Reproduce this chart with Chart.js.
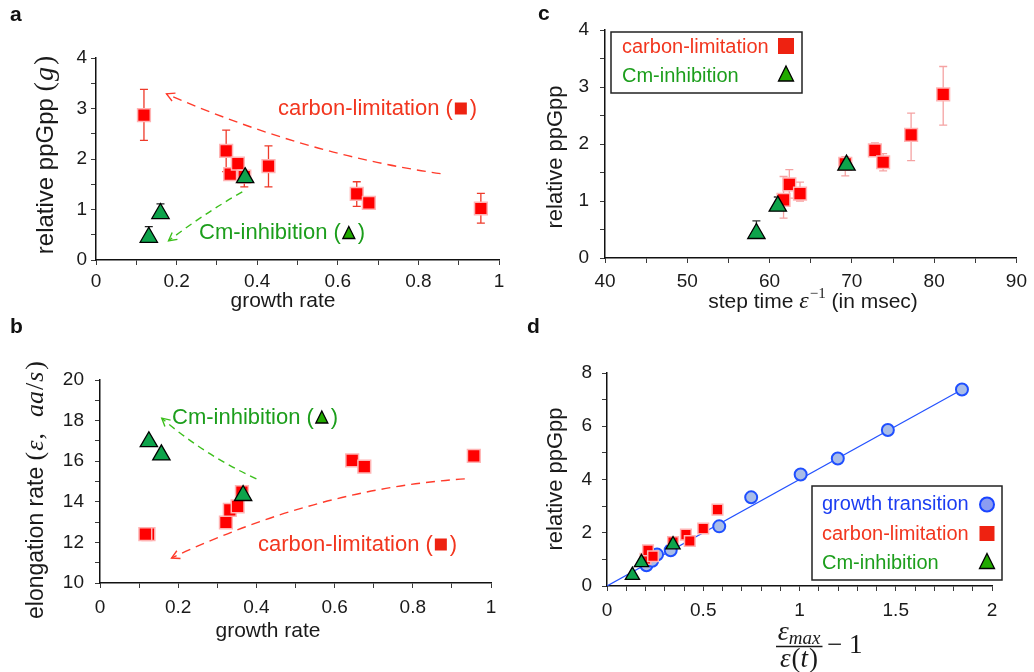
<!DOCTYPE html>
<html>
<head>
<meta charset="utf-8">
<title>ppGpp and elongation rate</title>
<script src="https://cdn.jsdelivr.net/npm/chart.js@4.4.0/dist/chart.umd.min.js"></script>
<style>
  html, body { margin: 0; padding: 0; background: #ffffff; }
  #wrap { position: relative; width: 1034px; height: 672px; overflow: hidden; }
  #wrap canvas { position: absolute; left: 0; top: 0; }
</style>
</head>
<body>
<div id="wrap">
  <canvas id="pa" width="1034" height="672"></canvas>
  <canvas id="pb" width="1034" height="672"></canvas>
  <canvas id="pc" width="1034" height="672"></canvas>
  <canvas id="pd" width="1034" height="672"></canvas>
</div>
<script>
// ---------- panel a: relative ppGpp vs growth rate ----------
const aCarbonRate  = [0.119, 0.323, 0.333, 0.352, 0.368, 0.428, 0.647, 0.677, 0.955];
const aCarbonPpGpp = [2.87, 2.16, 1.70, 1.91, 1.65, 1.86, 1.31, 1.13, 1.02];
const aCarbonLow   = [2.37, 1.75, null, null, 1.45, 1.45, 1.06, null, 0.73];
const aCarbonHigh  = [3.38, 2.57, null, null, null, 2.26, 1.55, null, 1.32];
const aCmRate      = [0.131, 0.160, 0.370];
const aCmPpGpp     = [0.45, 0.92, 1.63];
const aCmHigh      = [0.66, 1.11, null];

// ---------- panel b: elongation rate vs growth rate ----------
const bCarbonRate  = [0.124, 0.116, 0.322, 0.332, 0.352, 0.363, 0.645, 0.676, 0.956];
const bCarbonElong = [12.41, 12.41, 12.98, 13.60, 13.77, 14.48, 16.04, 15.73, 16.26];
const bCmRate      = [0.125, 0.157, 0.366];
const bCmElong     = [16.96, 16.31, 14.31];

// ---------- panel c: relative ppGpp vs step time (msec) ----------
const cCarbonStep  = [61.7, 62.4, 63.7, 69.2, 72.8, 73.8, 77.2, 81.1];
const cCarbonPpGpp = [1.02, 1.29, 1.13, 1.65, 1.89, 1.68, 2.16, 2.87];
const cCarbonLow   = [0.70, 1.05, 1.00, 1.44, 1.80, 1.53, 1.71, 2.33];
const cCarbonHigh  = [1.43, 1.55, 1.33, 1.78, 2.02, 1.83, 2.54, 3.36];
const cCmStep      = [58.4, 61.0, 69.35];
const cCmPpGpp     = [0.43, 0.91, 1.63];
const cCmHigh      = [0.65, 1.07, null];

// ---------- panel d: relative ppGpp vs eps_max/eps(t) - 1 ----------
const dGrowthX = [0.205, 0.235, 0.26, 0.331, 0.583, 0.749, 1.006, 1.199, 1.459, 1.844];
const dGrowthY = [0.78, 0.95, 1.18, 1.34, 2.24, 3.33, 4.19, 4.79, 5.86, 7.38];
const dCarbonX = [0.200, 0.213, 0.239, 0.343, 0.41, 0.43, 0.50, 0.574];
const dCarbonY = [1.02, 1.34, 1.12, 1.65, 1.93, 1.69, 2.16, 2.87];
const dCmX     = [0.132, 0.179, 0.343];
const dCmY     = [0.40, 0.88, 1.55];
const dFitX    = [0, 1.84];
const dFitY    = [0, 7.36];

// ---------- tick layouts: [min, max, minor step, labelled step] ----------
const aXTicks = [0, 1, 0.1, 0.2],  aYTicks = [0, 4, 0.5, 1];
const bXTicks = [0, 1, 0.1, 0.2],  bYTicks = [10, 20, 1, 2];
const cXTicks = [40, 90, 5, 10],   cYTicks = [0, 4, 0.5, 1];
const dXTicks = [0, 2, 0.1, 0.5],  dYTicks = [0, 8, 1, 2];

const SANS  = '"Liberation Sans", Arial, Helvetica, sans-serif';
const SERIF = '"Liberation Serif", "DejaVu Serif", serif';
const RED_TXT = '#f2361f', GREEN_TXT = '#1c9e1c', BLUE_TXT = '#1b3df2';

const pts = (xs, ys) => xs.map((x, i) => ({ x: x, y: ys[i] }));

function labelEvery(major) {
  return function (v) {
    const r = v / major;
    return Math.abs(r - Math.round(r)) < 1e-6 ? String(+Number(v).toFixed(3)) : '';
  };
}

function axis(t, pad, fit) {
  return {
    type: 'linear', min: t[0], max: t[1],
    ticks: { stepSize: t[2], autoSkip: false, maxRotation: 0, minRotation: 0, padding: pad,
             color: '#1a1a1a', font: { family: SANS, size: 19 }, callback: labelEvery(t[3]) },
    grid: { drawOnChartArea: false, drawTicks: true, tickLength: 5, color: '#3a3a3a', lineWidth: 1 },
    border: { display: true, color: '#111111', width: 1.5 },
    title: { display: false },
    afterFit: fit
  };
}

// marker styles
const squareStyle = (r) => ({ pointStyle: 'rect', pointRadius: r, pointHoverRadius: r,
  backgroundColor: '#ff0000', borderColor: '#ffb4b4', borderWidth: 1.5 });
const triStyle = (r) => ({ pointStyle: 'triangle', pointRadius: r, pointHoverRadius: r,
  backgroundColor: '#0ea34b', borderColor: '#000000', borderWidth: 1.3 });

// ---------- drawing helpers ----------
function drawMarker(ctx, kind, x, y, s, fill) {
  ctx.save();
  ctx.beginPath();
  if (kind === 'square') {
    ctx.fillStyle = fill || '#ee2211';
    ctx.fillRect(x - s / 2, y - s / 2, s, s);
  } else if (kind === 'triangle') {
    ctx.moveTo(x, y - s / 2);
    ctx.lineTo(x + s / 2, y + s / 2);
    ctx.lineTo(x - s / 2, y + s / 2);
    ctx.closePath();
    ctx.fillStyle = fill || '#22aa00';
    ctx.fill();
    ctx.strokeStyle = '#000';
    ctx.lineWidth = 1.3;
    ctx.stroke();
  } else {
    ctx.arc(x, y, s / 2, 0, Math.PI * 2);
    ctx.fillStyle = fill || '#8b9cf2';
    ctx.fill();
    ctx.strokeStyle = '#1a44ff';
    ctx.lineWidth = 2;
    ctx.stroke();
  }
  ctx.restore();
}

function richWidth(ctx, segs) {
  let w = 0;
  segs.forEach(s => { ctx.font = s.font; w += ctx.measureText(s.t).width + (s.gap || 0); });
  return w;
}

function drawRich(ctx, segs, cx, base, rotate) {
  ctx.save();
  ctx.translate(cx, base);
  if (rotate) ctx.rotate(-Math.PI / 2);
  const w = richWidth(ctx, segs);
  let x = -w / 2;
  ctx.textBaseline = 'alphabetic';
  ctx.textAlign = 'left';
  segs.forEach(s => {
    ctx.font = s.font;
    ctx.fillStyle = s.color || '#1a1a1a';
    ctx.fillText(s.t, x, s.dy || 0);
    x += ctx.measureText(s.t).width + (s.gap || 0);
  });
  ctx.restore();
}

function drawErrorBars(chart) {
  const ctx = chart.ctx, ys = chart.scales.y;
  chart.data.datasets.forEach((ds, i) => {
    if (!ds.errLow && !ds.errHigh) return;
    const meta = chart.getDatasetMeta(i);
    ctx.save();
    ctx.strokeStyle = ds.errColor;
    ctx.lineWidth = 1.3;
    meta.data.forEach((pt, j) => {
      [ds.errLow ? ds.errLow[j] : null, ds.errHigh ? ds.errHigh[j] : null].forEach(v => {
        if (v === null || v === undefined) return;
        const py = ys.getPixelForValue(v);
        ctx.beginPath();
        ctx.moveTo(pt.x, pt.y);
        ctx.lineTo(pt.x, py);
        ctx.moveTo(pt.x - 4, py);
        ctx.lineTo(pt.x + 4, py);
        ctx.stroke();
      });
    });
    ctx.restore();
  });
}

function drawTrendArrow(chart, a) {
  const ctx = chart.ctx, xs = chart.scales.x, ys = chart.scales.y;
  const p0 = [xs.getPixelForValue(a.from[0]), ys.getPixelForValue(a.from[1])];
  const c  = [xs.getPixelForValue(a.ctrl[0]), ys.getPixelForValue(a.ctrl[1])];
  const p2 = [xs.getPixelForValue(a.to[0]),   ys.getPixelForValue(a.to[1])];
  ctx.save();
  ctx.strokeStyle = a.color;
  ctx.lineWidth = 1.4;
  ctx.setLineDash(a.dash);
  ctx.beginPath();
  ctx.moveTo(p0[0], p0[1]);
  ctx.quadraticCurveTo(c[0], c[1], p2[0], p2[1]);
  ctx.stroke();
  ctx.setLineDash([]);
  const ang = Math.atan2(p2[1] - c[1], p2[0] - c[0]);
  const L = 9, sp = 0.5;
  ctx.beginPath();
  ctx.moveTo(p2[0] - L * Math.cos(ang - sp), p2[1] - L * Math.sin(ang - sp));
  ctx.lineTo(p2[0], p2[1]);
  ctx.lineTo(p2[0] - L * Math.cos(ang + sp), p2[1] - L * Math.sin(ang + sp));
  ctx.stroke();
  ctx.restore();
}

function drawNote(ctx, n) {
  ctx.save();
  ctx.font = n.size + 'px ' + SANS;
  ctx.fillStyle = n.color;
  ctx.textBaseline = 'alphabetic';
  ctx.textAlign = 'left';
  ctx.fillText(n.text, n.x, n.y);
  let x = n.x + ctx.measureText(n.text).width + 2;
  drawMarker(ctx, n.marker, x + n.msize / 2, n.my, n.msize);
  x += n.msize + 3;
  ctx.fillStyle = n.color;
  ctx.fillText(')', x, n.y);
  ctx.restore();
}

function drawLegend(ctx, lg) {
  ctx.save();
  ctx.strokeStyle = '#222';
  ctx.lineWidth = 1.5;
  ctx.strokeRect(lg.box[0], lg.box[1], lg.box[2] - lg.box[0], lg.box[3] - lg.box[1]);
  ctx.font = lg.size + 'px ' + SANS;
  ctx.textBaseline = 'alphabetic';
  lg.rows.forEach(r => {
    ctx.fillStyle = r.color;
    ctx.fillText(r.text, lg.textX, r.y);
    drawMarker(ctx, r.marker, lg.markerX, r.my, r.ms);
  });
  ctx.restore();
}

// ---------- per-panel decorations (titles, notes, arrows, legends) ----------
const SANS24 = '24px ' + SANS, SANS23 = '23px ' + SANS, SANS22 = '22px ' + SANS;
const SER26 = '26px ' + SERIF, SERI26 = 'italic 26px ' + SERIF;
const DECOR = {
  pa: {
    letter: { t: 'a', x: 10, y: 21 },
    arrows: [
      { from: [0.855, 1.71], ctrl: [0.515, 2.10], to: [0.175, 3.29], color: '#ff3b2b', dash: [9, 6] },
      { from: [0.363, 1.35], ctrl: [0.265, 0.90], to: [0.180, 0.38], color: '#3cbf1c', dash: [7, 5] }
    ],
    notes: [
      { x: 278, y: 115, text: 'carbon-limitation (', color: RED_TXT, size: 22, marker: 'square', msize: 12, my: 108.5 },
      { x: 199, y: 239, text: 'Cm-inhibition (', color: GREEN_TXT, size: 22, marker: 'triangle', msize: 12, my: 232.5 }
    ],
    ytitle: { cx: 53, base: 155, segs: [
      { t: 'relative ppGpp ', font: SANS24 },
      { t: '(', font: '28px ' + SERIF, gap: 1 }, { t: 'g', font: 'italic 28px ' + SERIF, gap: 2 },
      { t: ')', font: '28px ' + SERIF } ] },
    xtitle: { cx: 283, base: 307, segs: [{ t: 'growth rate', font: '21px ' + SANS }] }
  },
  pb: {
    letter: { t: 'b', x: 10, y: 333 },
    arrows: [
      { from: [0.400, 15.13], ctrl: [0.266, 16.32], to: [0.158, 18.12], color: '#3cbf1c', dash: [7, 5] },
      { from: [0.933, 15.13], ctrl: [0.558, 14.65], to: [0.183, 11.23], color: '#ff3b2b', dash: [9, 6] }
    ],
    notes: [
      { x: 172, y: 424, text: 'Cm-inhibition (', color: GREEN_TXT, size: 22, marker: 'triangle', msize: 12, my: 417 },
      { x: 258, y: 551, text: 'carbon-limitation (', color: RED_TXT, size: 22, marker: 'square', msize: 12, my: 544.5 }
    ],
    ytitle: { cx: 43, base: 490, segs: [
      { t: 'elongation rate ', font: SANS23 },
      { t: '(', font: SER26, gap: 1 }, { t: 'ε', font: SERI26, gap: 1 }, { t: ',', font: SER26, gap: 16 },
      { t: 'aa', font: SERI26, gap: 1 }, { t: '/', font: SER26, gap: 1 }, { t: 's', font: SERI26, gap: 2 },
      { t: ')', font: SER26 } ] },
    xtitle: { cx: 268, base: 637, segs: [{ t: 'growth rate', font: '21px ' + SANS }] }
  },
  pc: {
    letter: { t: 'c', x: 538, y: 20 },
    legend: { box: [611, 32, 802, 93], size: 20, textX: 622, markerX: 786, rows: [
      { text: 'carbon-limitation', color: RED_TXT, y: 53, marker: 'square', my: 46, ms: 16 },
      { text: 'Cm-inhibition', color: GREEN_TXT, y: 82, marker: 'triangle', my: 73.5, ms: 15 } ] },
    ytitle: { cx: 562, base: 157, segs: [{ t: 'relative ppGpp', font: SANS22 }] },
    xtitle: { cx: 813, base: 308, segs: [
      { t: 'step time ', font: '21px ' + SANS },
      { t: 'ε', font: 'italic 24px ' + SERIF, gap: 1 },
      { t: '−1', font: '15px ' + SERIF, dy: -10, gap: 0 },
      { t: ' (in msec)', font: '21px ' + SANS } ] }
  },
  pd: {
    letter: { t: 'd', x: 527, y: 333 },
    legend: { box: [812, 486, 1002, 580], size: 20, textX: 822, markerX: 987, rows: [
      { text: 'growth transition', color: BLUE_TXT, y: 510, marker: 'circle', my: 504.5, ms: 14 },
      { text: 'carbon-limitation', color: RED_TXT, y: 540, marker: 'square', my: 533.5, ms: 15 },
      { text: 'Cm-inhibition', color: GREEN_TXT, y: 569, marker: 'triangle', my: 561, ms: 15 } ] },
    ytitle: { cx: 562, base: 479, segs: [{ t: 'relative ppGpp', font: SANS22 }] },
    fraction: true
  }
};

function drawFractionTitle(ctx) {
  ctx.save();
  ctx.fillStyle = '#1a1a1a';
  ctx.textBaseline = 'alphabetic';
  // numerator: eps_max
  drawRich(ctx, [
    { t: 'ε', font: 'italic 28px ' + SERIF, gap: 0 },
    { t: 'max', font: 'italic 19px ' + SERIF, dy: 4 } ], 799, 640, false);
  // fraction bar
  ctx.strokeStyle = '#1a1a1a';
  ctx.lineWidth = 1.6;
  ctx.beginPath();
  ctx.moveTo(776, 646.5);
  ctx.lineTo(822.5, 646.5);
  ctx.stroke();
  // denominator: eps(t)
  drawRich(ctx, [
    { t: 'ε', font: 'italic 27px ' + SERIF, gap: 1 },
    { t: '(', font: '27px ' + SERIF, gap: 0 },
    { t: 't', font: 'italic 27px ' + SERIF, gap: 1 },
    { t: ')', font: '27px ' + SERIF } ], 799, 667, false);
  // "− 1"
  ctx.font = '27px ' + SERIF;
  ctx.textAlign = 'left';
  ctx.fillText('− 1', 827, 653);
  ctx.restore();
}

const decorPlugin = {
  id: 'panelDecor',
  beforeDatasetsDraw(chart) {
    const d = DECOR[chart.canvas.id];
    drawErrorBars(chart);
    (d.arrows || []).forEach(a => drawTrendArrow(chart, a));
  },
  afterDraw(chart) {
    const d = DECOR[chart.canvas.id], ctx = chart.ctx;
    (d.notes || []).forEach(n => drawNote(ctx, n));
    if (d.legend) drawLegend(ctx, d.legend);
    if (d.ytitle) drawRich(ctx, d.ytitle.segs, d.ytitle.cx, d.ytitle.base, true);
    if (d.xtitle) drawRich(ctx, d.xtitle.segs, d.xtitle.cx, d.xtitle.base, false);
    if (d.fraction) drawFractionTitle(ctx);
    ctx.save();
    ctx.font = 'bold 21px ' + SANS;
    ctx.fillStyle = '#111';
    ctx.textBaseline = 'alphabetic';
    ctx.fillText(d.letter.t, d.letter.x, d.letter.y);
    ctx.restore();
  }
};

// plot box: left/top/right/bottom of the axes rectangle on the page
function panel(id, box, xt, yt, xPad, yPad, datasets) {
  const XH = 30;
  return new Chart(document.getElementById(id), {
    type: 'scatter',
    data: { datasets: datasets },
    options: {
      responsive: false,
      animation: false,
      events: [],
      layout: { padding: { left: 0, top: box.top, right: 1034 - box.right, bottom: 672 - box.bottom - XH } },
      scales: {
        x: axis(xt, xPad, s => { s.height = XH; }),
        y: axis(yt, yPad, s => { s.width = box.left; })
      },
      plugins: { legend: { display: false }, tooltip: { enabled: false } }
    },
    plugins: [decorPlugin]
  });
}

panel('pa', { left: 96, top: 58, right: 499, bottom: 260 }, aXTicks, aYTicks, 5, 4, [
  Object.assign({ label: 'Cm-inhibition', data: pts(aCmRate, aCmPpGpp), order: 0,
    errHigh: aCmHigh, errColor: '#222222' }, triStyle(10)),
  Object.assign({ label: 'carbon-limitation', data: pts(aCarbonRate, aCarbonPpGpp), order: 1,
    errLow: aCarbonLow, errHigh: aCarbonHigh, errColor: '#ee3a2a' }, squareStyle(9))
]);

panel('pb', { left: 100, top: 380, right: 491, bottom: 583 }, bXTicks, bYTicks, 8, 11, [
  Object.assign({ label: 'Cm-inhibition', data: pts(bCmRate, bCmElong), order: 0 }, triStyle(10)),
  Object.assign({ label: 'carbon-limitation', data: pts(bCarbonRate, bCarbonElong), order: 1 }, squareStyle(9))
]);

panel('pc', { left: 605, top: 30, right: 1021, bottom: 258 }, cXTicks, cYTicks, 7, 11, [
  Object.assign({ label: 'Cm-inhibition', data: pts(cCmStep, cCmPpGpp), order: 0,
    errHigh: cCmHigh, errColor: '#333333' }, triStyle(10)),
  Object.assign({ label: 'carbon-limitation', data: pts(cCarbonStep, cCarbonPpGpp), order: 1,
    errLow: cCarbonLow, errHigh: cCarbonHigh, errColor: '#f5a3a3' }, squareStyle(9))
]);

panel('pd', { left: 607, top: 373, right: 992, bottom: 586 }, dXTicks, dYTicks, 8, 10, [
  Object.assign({ label: 'Cm-inhibition', data: pts(dCmX, dCmY), order: 0 }, triStyle(8.2)),
  Object.assign({ label: 'carbon-limitation', data: pts(dCarbonX, dCarbonY), order: 1 }, squareStyle(7.5)),
  { label: 'growth transition', data: pts(dGrowthX, dGrowthY), order: 2,
    pointStyle: 'circle', pointRadius: 6, pointHoverRadius: 6,
    backgroundColor: '#a9bde8', borderColor: '#1f4fff', borderWidth: 2 },
  { label: 'fit', data: pts(dFitX, dFitY), order: 3, showLine: true,
    pointRadius: 0, borderColor: '#2452ff', borderWidth: 1.2, backgroundColor: '#2452ff' }
]);
</script>
</body>
</html>
